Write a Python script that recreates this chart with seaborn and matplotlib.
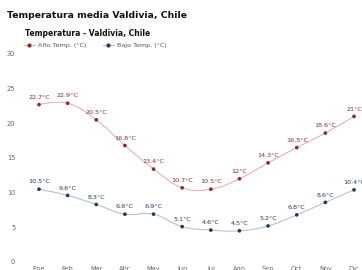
import numpy as np
import pandas as pd
import seaborn as sns
import matplotlib
matplotlib.use("Agg")
import matplotlib.pyplot as plt
from matplotlib.path import Path
from matplotlib.patches import PathPatch
from matplotlib.lines import Line2D

months = ["Ene", "Feb", "Mar", "Abr", "May", "Jun", "Jul", "Ago", "Sep", "Oct", "Nov", "Dic"]
alto = [22.7, 22.9, 20.5, 16.8, 13.4, 10.7, 10.5, 12, 14.3, 16.5, 18.6, 21]
bajo = [10.5, 9.6, 8.3, 6.9, 6.9, 5.1, 4.6, 4.5, 5.2, 6.8, 8.6, 10.4]
series_names = ["Alto Temp. (°C)", "Bajo Temp. (°C)"]
yticks = [0, 5, 10, 15, 20, 25, 30]

sns.set_theme(style="white")
plt.rcParams['font.family'] = ['DejaVu Sans']

C_HI_M = "#8c2a2a"
C_HI_L = "#e3b0b0"
C_LO_M = "#213a5c"
C_LO_L = "#b0bfd1"

df = pd.DataFrame({
    "x": list(range(len(months))) * 2,
    "y": alto + bajo,
    "s": [series_names[0]] * len(months) + [series_names[1]] * len(months),
})

fig = plt.figure(figsize=(3.62, 2.70), dpi=100)
W, H = 362, 270
ax = fig.add_axes([25 / W, 1 - 262 / H, 1 - 25 / W, (262 - 54) / H])


def spline_path(xs, ys, k=0.4):
    xs = np.asarray(xs, float)
    ys = np.asarray(ys, float)
    n = len(xs)
    verts = [(xs[0], ys[0])]
    codes = [Path.MOVETO]
    for i in range(n - 1):
        dx = xs[i + 1] - xs[i]
        if i > 0:
            m0 = (ys[i + 1] - ys[i - 1]) / (xs[i + 1] - xs[i - 1])
            c1 = (xs[i] + k * dx, ys[i] + m0 * k * dx)
        else:
            c1 = (xs[i], ys[i])
        if i + 1 < n - 1:
            m1 = (ys[i + 2] - ys[i]) / (xs[i + 2] - xs[i])
            c2 = (xs[i + 1] - k * dx, ys[i + 1] - m1 * k * dx)
        else:
            c2 = (xs[i + 1], ys[i + 1])
        verts += [c1, c2, (xs[i + 1], ys[i + 1])]
        codes += [Path.CURVE4] * 3
    return Path(verts, codes)


x_idx = list(range(len(months)))
ax.add_patch(PathPatch(spline_path(x_idx, alto), fill=False, ec=C_HI_L, lw=0.75, zorder=2))
ax.add_patch(PathPatch(spline_path(x_idx, bajo), fill=False, ec=C_LO_L, lw=0.75, zorder=2))

sns.scatterplot(data=df, x="x", y="y", hue="s", palette=[C_HI_M, C_LO_M],
                s=7, linewidth=0, ax=ax, legend=False, zorder=3)

for xi, v in zip(x_idx, alto):
    ax.annotate(f"{v:g}°C", (xi, v), xytext=(0, 3.5), textcoords="offset points",
                ha="center", va="bottom", fontsize=4.6, color=C_HI_M)
for xi, v in zip(x_idx, bajo):
    ax.annotate(f"{v:g}°C", (xi, v), xytext=(0, 3.5), textcoords="offset points",
                ha="center", va="bottom", fontsize=4.6, color=C_LO_M)

ax.set_ylim(0, 30)
ax.set_xlim(-14 / 28.636, (362 - 39) / 28.636)
ax.set_yticks(yticks)
ax.set_yticklabels([str(v) for v in yticks])
ax.set_xticks(x_idx)
ax.set_xticklabels(months)
ax.tick_params(axis="both", labelsize=4.8, colors="#666666", length=0, pad=3)
ax.tick_params(axis="y", pad=7)
for sp in ax.spines.values():
    sp.set_visible(False)
ax.axhline(0, color="#e6e6e6", lw=0.8, zorder=1)
ax.set_xlabel("")
ax.set_ylabel("")
ax.patch.set_alpha(0)

fig.text(7 / W, 1 - 16 / H, "Temperatura media Valdivia, Chile", fontsize=6.7,
         fontweight="bold", color="#111111", va="center", ha="left")
fig.text(25 / W, 1 - 34 / H, "Temperatura - Valdivia, Chile", fontsize=5.5,
         fontweight="bold", color="#111111", va="center", ha="left")

handles = [
    Line2D([], [], color=C_HI_L, lw=0.8, marker="o", markersize=2, markerfacecolor=C_HI_M,
           markeredgecolor=C_HI_M),
    Line2D([], [], color=C_LO_L, lw=0.8, marker="o", markersize=2, markerfacecolor=C_LO_M,
           markeredgecolor=C_LO_M),
]
leg = fig.legend(handles, series_names, loc="center left", bbox_to_anchor=(24 / W, 1 - 45 / H),
                 ncol=2, frameon=False, fontsize=4.6, handlelength=1.7, handletextpad=0.5,
                 columnspacing=2.6, borderaxespad=0, borderpad=0)
for t in leg.get_texts():
    t.set_color("#555555")

fig.savefig("out.png", dpi=100)
